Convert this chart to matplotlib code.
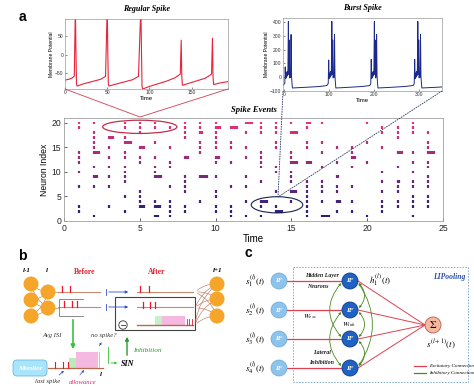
import matplotlib
matplotlib.use("Agg")
import matplotlib.pyplot as plt
import numpy as np
from matplotlib.patches import Ellipse, Circle, Rectangle, FancyBboxPatch, FancyArrowPatch

plt.rcParams['mathtext.fontset'] = 'stix'

# ---------------- data ----------------
reg_t = [0, 4, 8, 11, 12.3, 12.9, 13.6, 14.3, 22, 32, 42, 48, 50.0, 50.6, 51.3, 52.0,
         60, 70, 80, 87, 89.8, 90.5, 91.2, 92.0, 100, 110, 120, 130, 136.5, 137.6, 138.3, 139.0,
         146, 156, 166, 173.5, 174.6, 175.3, 176.0, 183, 193]
reg_v = [-68, -66, -63, -57, 130, 20, -78, -84, -78, -72, -66, -58, 130, 20, -78, -84,
         -79, -73, -67, -58, 130, 20, -85, -92, -85, -78, -71, -62, -52, 40, -60, -82,
         -77, -70, -63, -52, 45, -60, -80, -76, -72]

burst_t = [-3, 1, 2, 3, 4, 5, 6, 7, 8, 9, 10, 11, 12, 13, 14, 15, 16, 17, 18, 30, 55, 80, 95,
           98, 99, 100, 101, 102, 103, 104, 105, 106, 107, 108, 109, 110, 111, 112, 113, 114, 115, 128, 150, 175, 191,
           193, 194, 195, 196, 197, 198, 199, 200, 201, 202, 203, 204, 205, 206, 207, 208, 209, 222, 245, 270, 288,
           290, 291, 292, 293, 294, 295, 296, 297, 298, 299, 300, 301, 302, 303, 304, 305, 306, 307, 320, 340, 355]
burst_v = [-58, -45, 75, -10, 30, 0, 40, 10, 60, 405, 20, 270, -5, 30, 0, 310, 10, -40, -78, -76, -72, -67, -60,
           -45, 125, -10, 30, 0, 40, 10, 60, 405, 20, 270, -5, 30, 0, 310, 10, -40, -78, -76, -72, -67, -60,
           -45, 130, -10, 30, 0, 40, 10, 60, 405, 20, 270, -5, 30, 310, 10, -40, -78, -76, -72, -67, -60,
           -45, 130, -10, 30, 0, 40, 10, 60, 405, 20, 270, -5, 30, 0, 310, 10, -40, -78, -76, -73, -70]

# raster: time -> neuron indices with single spikes
raster_cols = {
    1: [20, 19, 14, 13, 12, 10, 7, 3, 2],
    2: [20, 18, 17, 16, 15, 11, 7, 1],
    3: [15, 13, 11, 9, 7, 3],
    4: [20, 19, 17, 14, 13, 11, 10, 9, 8, 5, 2],
    5: [20, 19, 18, 13, 12, 6, 5, 4],
    6: [20, 19, 16, 13, 11, 10, 4],
    7: [19, 15, 12, 11, 7, 4, 3, 2, 1],
    8: [20, 19, 18, 17, 9, 8, 7, 6, 3, 2],
    9: [20, 19, 16, 15, 14, 4],
    10: [20, 18, 17, 16, 15, 12, 9, 6, 5, 3, 2],
    11: [16, 15, 12, 7, 3, 2, 1],
    12: [18, 15, 13, 9, 7, 4, 1],
    13: [20, 19, 18, 14, 13, 12, 11, 8, 3, 1],
    14: [20, 19, 18, 16, 15, 11, 10, 6, 3],
    15: [20, 14, 13, 10, 9, 8, 4],
    16: [19, 16, 15, 8, 7, 6, 5, 4, 3, 2, 1],
    17: [20, 16, 14, 11, 8, 7, 6, 4],
    18: [15, 12, 7, 6, 2],
    19: [15, 14, 11, 7, 4, 2],
    20: [20, 16, 12, 1],
    21: [19, 18, 15, 10, 8, 6, 4, 3, 2],
    22: [19, 18, 17, 11, 7, 6, 4, 3],
    23: [20, 19, 18, 14, 12, 10, 8, 7, 5, 4, 3, 1],
    24: [18, 16, 15, 12, 11, 9, 8, 7, 5, 4, 3],
}
# bursts: (time, neuron, number of spikes)
raster_bursts = [(2, 14, 4), (2, 9, 3), (3, 17, 3), (4, 16, 5), (5, 15, 4), (5, 3, 4),
                 (6, 9, 5), (6, 3, 4), (6, 1, 3), (8, 13, 3), (9, 18, 2), (9, 9, 5),
                 (10, 19, 4), (10, 13, 3), (11, 19, 5), (12, 20, 5), (13, 4, 5), (14, 2, 5),
                 (15, 18, 5), (15, 12, 5), (15, 6, 4), (16, 20, 3), (16, 12, 4), (17, 1, 6),
                 (18, 9, 2), (18, 4, 3), (19, 13, 3), (22, 14, 4), (22, 8, 2), (24, 14, 5)]

W, H = 474, 388
fig = plt.figure(figsize=(W / 100, H / 100), dpi=100)

def axpx(x0, y0, x1, y1):
    return fig.add_axes([x0 / W, 1 - y1 / H, (x1 - x0) / W, (y1 - y0) / H])

serif = 'Liberation Serif'
sans = 'Liberation Sans'
RED = '#e8233a'
NAVY = '#1c2a8c'

def style_inset(ax):
    for s in ax.spines.values():
        s.set_color('#9a9a9a'); s.set_linewidth(0.5)
    ax.tick_params(direction='in', length=1.5, width=0.4, labelsize=3.6, pad=1, colors='#333333')
    for lab in ax.get_xticklabels() + ax.get_yticklabels():
        lab.set_fontfamily(sans)

# Regular spike inset
a1 = axpx(65, 19, 228, 89)
a1.plot(reg_t, reg_v, color=RED, lw=0.8)
a1.set_xlim(0, 193); a1.set_ylim(-92, 97)
a1.set_xticks([0, 50, 100, 150]); a1.set_yticks([-50, 0, 50])
style_inset(a1)
a1.set_xlabel('Time', fontsize=4.3, family=sans, labelpad=0.5)
a1.set_ylabel('Membrane Potential', fontsize=3.6, family=sans, labelpad=1)
a1.set_title('Regular Spike', fontsize=5.8, family=serif, weight='bold', style='italic', pad=5.5)

# Burst spike inset
a2 = axpx(283, 18, 442, 91)
a2.plot(burst_t, burst_v, color=NAVY, lw=0.7)
a2.set_xlim(-3, 352); a2.set_ylim(-100, 430)
a2.set_xticks([0, 100, 200, 300]); a2.set_yticks([-100, 0, 100, 200, 300, 400])
style_inset(a2)
a2.set_xlabel('Time', fontsize=4.3, family=sans, labelpad=0.5)
a2.set_ylabel('Membrane Potential', fontsize=3.6, family=sans, labelpad=1)
a2.set_title('Burst Spike', fontsize=5.8, family=serif, weight='bold', style='italic', pad=5.5)

# Raster
a3 = axpx(64, 118, 443, 221)
c_lo = np.array([0.11, 0.12, 0.48]); c_hi = np.array([0.89, 0.20, 0.48])
def ncol(n):
    f = n / 20.0
    return tuple(c_lo * (1 - f) + c_hi * f)
for t, ns in raster_cols.items():
    for n in ns:
        a3.vlines(t, n - 0.28, n + 0.28, color=ncol(n), lw=1.6)
for t, n, k in raster_bursts:
    for j in range(k):
        a3.vlines(t + 0.1 * j, n - 0.28, n + 0.28, color=ncol(n), lw=1.6)
a3.set_xlim(0, 25); a3.set_ylim(0, 21)
a3.set_xticks([0, 5, 10, 15, 20, 25]); a3.set_yticks([0, 5, 10, 15, 20])
for s in a3.spines.values():
    s.set_color('#a0a0a0'); s.set_linewidth(0.6)
a3.tick_params(direction='in', length=2, width=0.5, labelsize=6.2, pad=2, colors='#222222')
for lab in a3.get_xticklabels() + a3.get_yticklabels():
    lab.set_fontfamily(sans)
a3.set_xlabel('Time', fontsize=7, family=sans, labelpad=1)
a3.set_ylabel('Neuron Index', fontsize=6.2, family=sans, labelpad=2)
a3.set_title('Spike Events', fontsize=6.2, family=serif, weight='bold', style='italic', pad=4)
a3.add_patch(Ellipse((5.0, 19.2), 4.9, 2.7, fill=False, ec='#c0304a', lw=0.9, zorder=5))
a3.add_patch(Ellipse((14.05, 3.3), 3.4, 3.3, fill=False, ec='#1a2050', lw=0.8, zorder=5))

# ---------- overlay in pixel coordinates ----------
ov = fig.add_axes([0, 0, 1, 1], facecolor='none')
ov.set_xlim(0, W); ov.set_ylim(H, 0); ov.axis('off')

# zoom connector lines
ov.plot([65, 140, 228], [89, 117, 89], color='#d04050', lw=0.6)
ov.plot([283, 278, 442], [91, 197, 91], color='#2a3a60', lw=0.6, ls=(0, (2, 1)))

ov.text(22, 17, 'a', fontsize=10, weight='bold', family=sans, ha='center', va='center')
ov.text(22, 256, 'b', fontsize=10, weight='bold', family=sans, ha='center', va='center')
ov.text(248, 253, 'c', fontsize=10, weight='bold', family=sans, ha='center', va='center')

# ---------- panel b ----------
ORANGE = '#f5a52a'; BROWN = '#b86a50'; TRAIN = '#c98a70'; SPK = '#e8192c'
BL = '#3050c8'; GR = '#2a9a2a'
lc = [(31, 284), (31, 300), (31, 316)]
mc = [(48, 292), (48, 308)]
rc = [(217, 284), (217, 299), (217, 316)]
for a in lc:
    for b in mc:
        ov.add_patch(FancyArrowPatch(a, b, connectionstyle='arc3,rad=0.2', arrowstyle='-', color=BROWN, lw=0.4, zorder=2))
for b in mc:
    ov.plot([b[0], 58], [b[1], b[1]], color=BROWN, lw=0.4)
for a in [(195, 292), (195, 308), (195, 325)]:
    for b in rc:
        ov.add_patch(FancyArrowPatch(a, b, connectionstyle='arc3,rad=-0.2', arrowstyle='-', color=BROWN, lw=0.4, zorder=2))
for (x, y) in lc + mc + rc:
    ov.add_patch(Circle((x, y), 7.5, fc=ORANGE, ec='none', zorder=3))
for x, lab in [(27, 'l-1'), (47, 'l'), (218, 'l+1')]:
    ov.text(x, 270, lab, fontsize=5, family=serif, style='italic', weight='bold', ha='center', va='center')
ov.text(85, 272, 'Before', fontsize=5.5, family=serif, weight='bold', color='#e0202e', ha='center', va='center')
ov.text(157, 272, 'After', fontsize=5.5, family=serif, weight='bold', color='#e0202e', ha='center', va='center')

def spikes(xs, y, h=6, lw=0.9):
    for x in xs:
        ov.plot([x, x], [y, y - h], color=SPK, lw=lw)

for y in (292, 307):
    ov.plot([58, 100], [y, y], color=TRAIN, lw=0.8)
    ov.plot([137, 193], [y, y], color=TRAIN, lw=0.8)
    ov.plot([106, 106], [y - 3, y + 3], color=BL, lw=0.6)
    ov.annotate('', xy=(131, y), xytext=(106, y), arrowprops=dict(arrowstyle='-|>', color=BL, lw=0.6, mutation_scale=4))
spikes([62, 70], 292)
spikes([64, 72, 77], 307)
spikes([140, 149], 292)
spikes([143, 150, 155], 308)
ov.plot([83, 59, 59, 83], [299, 299, 316, 316], color='#777777', lw=0.6)
ov.add_patch(Rectangle((115, 297), 80, 33, fill=False, ec='#444444', lw=0.8))
ov.plot([137, 193], [325, 325], color=BROWN, lw=1.0)
ov.add_patch(Rectangle((155, 316), 7, 8.5, fc='#c8f0c8', ec='none'))
ov.add_patch(Rectangle((162, 316), 23, 8.5, fc='#f5b8e0', ec='none'))
spikes([187, 189.5, 192], 325, h=6, lw=0.6)
ov.add_patch(Circle((123, 325), 4.2, fill=False, ec='#333333', lw=0.6))
ov.plot([120.8, 125.2], [325, 325], color='#333333', lw=0.6)

ov.annotate('', xy=(73, 352), xytext=(73, 317), arrowprops=dict(arrowstyle='-|>', color='#3cc03c', lw=1.2, mutation_scale=6))
ov.text(52, 336, 'Avg ISI', fontsize=4.8, family=serif, style='italic', ha='center', va='center', color='#333333')
ov.text(104, 336, 'no spike?', fontsize=4.8, family=serif, style='italic', ha='center', va='center', color='#333333')
ov.annotate('', xy=(103, 340), xytext=(98, 348), arrowprops=dict(arrowstyle='-|>', color=BL, lw=0.5, mutation_scale=3))

ov.add_patch(FancyBboxPatch((13, 360), 34, 16, boxstyle='round,pad=0,rounding_size=4', fc='#a8e4fa', ec='#70b8e0', lw=0.6))
ov.text(30, 368, 'Monitor', fontsize=5.2, family=serif, style='italic', weight='bold', color='white', ha='center', va='center')
ov.plot([48, 103], [368, 368], color=BROWN, lw=0.9)
ov.add_patch(Rectangle((69, 358), 7, 9.5, fc='#b8ecb8', ec='none'))
ov.add_patch(Rectangle((76, 352), 22, 15.5, fc='#f5b8e0', ec='none'))
ov.plot([99, 99], [352, 367], color='#aaaaaa', lw=0.5)
spikes([55, 63, 68], 368, h=6, lw=0.8)
ov.text(101, 374, 'l', fontsize=5, family=serif, style='italic', weight='bold', ha='center', va='center')
ov.text(48, 382, 'last spike', fontsize=4.8, family=serif, style='italic', ha='center', va='center', color='#333333')
ov.text(83, 382, 'allowance', fontsize=4.8, family=serif, style='italic', ha='center', va='center', color='#e0206a')
ov.annotate('', xy=(66, 369), xytext=(57, 377), arrowprops=dict(arrowstyle='-|>', color=BL, lw=0.5, mutation_scale=3))
ov.annotate('', xy=(86, 368), xytext=(78, 377), arrowprops=dict(arrowstyle='-|>', color=BL, lw=0.5, mutation_scale=3))
ov.plot([108, 108], [347, 363], color='#3cc03c', lw=0.6)
ov.annotate('', xy=(120, 363), xytext=(108, 363), arrowprops=dict(arrowstyle='-|>', color='#3cc03c', lw=0.6, mutation_scale=3))
ov.text(128, 364, 'SIN', fontsize=5.8, family=serif, style='italic', weight='bold', ha='center', va='center')
ov.annotate('', xy=(127, 334), xytext=(127, 358), arrowprops=dict(arrowstyle='-|>', color=GR, lw=1.0, mutation_scale=5))
ov.text(133, 351, 'Inhibition', fontsize=5.2, family=serif, style='italic', ha='left', va='center', color='#2a9a2a')

# ---------- panel c ----------
ys = [281, 310, 339, 368]
ov.add_patch(Rectangle((293, 267), 175, 115, fill=False, ec='#7aa8d8', lw=0.7, ls=(0, (1.5, 1.5))))
ov.text(449, 277, 'LIPooling', fontsize=5.5, family=serif, style='italic', weight='bold', color='#2a50a8', ha='center', va='center')
for i, y in enumerate(ys):
    ov.plot([287, 342], [y, y], color='#e04050', lw=0.9, zorder=2)
    ov.add_patch(Circle((279, y), 8, fc='#8ec4ec', ec='#6aa8d8', lw=0.5, zorder=3))
    ov.text(279, y, 'IF', fontsize=5, family=serif, style='italic', weight='bold', color='white', ha='center', va='center', zorder=4)
    ov.text(255, y, r'$s_{%d}^{(l)}(t)$' % (i + 1), fontsize=6.5, ha='center', va='center')
    ov.plot([358, 425], [y, 325], color='#e04050', lw=0.7, zorder=2)
# lateral inhibition arcs
GC = '#4a8a20'
for (i, j, r) in [(0, 2, 0.45), (1, 3, 0.45)]:
    ov.add_patch(FancyArrowPatch((343, ys[i]), (343, ys[j]), connectionstyle='arc3,rad=%f' % r, arrowstyle='<|-|>', mutation_scale=3, color=GC, lw=0.6, zorder=2))
for (i, j, r) in [(0, 1, -0.5), (1, 2, -0.5), (2, 3, -0.5), (0, 3, -0.35)]:
    ov.add_patch(FancyArrowPatch((357, ys[i]), (357, ys[j]), connectionstyle='arc3,rad=%f' % r, arrowstyle='<|-|>', mutation_scale=3, color=GC, lw=0.6, zorder=2))
for y in ys:
    ov.add_patch(Circle((350, y), 8, fc='#1f62c4', ec='#0e3c88', lw=0.6, zorder=3))
    ov.text(350, y, 'IF', fontsize=5, family=serif, style='italic', weight='bold', color='white', ha='center', va='center', zorder=4)
ov.add_patch(Circle((433, 325), 8, fc='#f5b8a0', ec='#b06048', lw=0.6, zorder=3))
ov.text(433, 325, r'$\Sigma$', fontsize=7.5, ha='center', va='center', zorder=4)
ov.text(380, 280, r'$h_{1}^{(l)}(t)$', fontsize=6.5, ha='center', va='center')
ov.text(441, 344, r'$s^{(l+1)}(t)$', fontsize=6.5, ha='center', va='center')
for (x, y, s) in [(322, 276, 'Hidden Layer'), (318, 287, 'Neurons'), (322, 353, 'Lateral'), (322, 363, 'Inhibition')]:
    ov.text(x, y, s, fontsize=4.3, family=serif, style='italic', weight='bold', ha='center', va='center', color='#222222')
ov.text(310, 317, r'$W_{exc}$', fontsize=5, ha='center', va='center')
ov.text(349, 325, r'$W_{inh}$', fontsize=5, ha='center', va='center', zorder=5)
ov.plot([414, 426], [366, 366], color='#e04050', lw=0.9)
ov.plot([414, 426], [373, 373], color=GC, lw=0.9)
ov.text(429, 366, 'Excitatory Connection', fontsize=3.7, family=serif, style='italic', ha='left', va='center')
ov.text(429, 373, 'Inhibitory Connection', fontsize=3.7, family=serif, style='italic', ha='left', va='center')

fig.savefig('out.png', dpi=100)
